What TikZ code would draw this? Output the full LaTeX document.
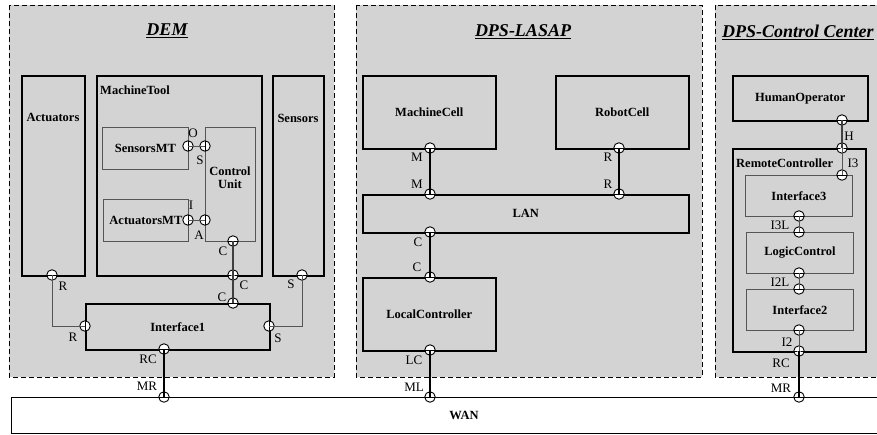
\documentclass[tikz,border=0pt]{standalone}
\usepackage{fontspec}
\setmainfont{Liberation Serif}
\definecolor{panelgray}{HTML}{D3D3D3}
\definecolor{thingray}{HTML}{555555}
\begin{document}
\begin{tikzpicture}[x=1pt,y=-1pt,
  panel/.style={draw=black, fill=panelgray, line width=0.7pt, dash pattern=on 5pt off 3pt},
  bigbox/.style={draw=black, line width=1.5pt, anchor=north west, inner sep=0pt, font=\fontsize{12.5}{14}\selectfont\bfseries},
  smallbox/.style={draw=thingray, line width=0.8pt, anchor=north west, inner sep=0pt, font=\fontsize{12.5}{14}\selectfont\bfseries},
  lbl/.style={font=\fontsize{12.5}{14}\selectfont\bfseries, inner sep=0pt},
  plbl/.style={font=\fontsize{13}{14}\selectfont, inner sep=0pt},
  ttl/.style={font=\fontsize{18}{20}\selectfont\bfseries\itshape, inner sep=0pt},
  port/.style={circle, draw=black, fill=white, line width=0.9pt, inner sep=0pt, minimum size=10.5pt},
  ph/.style={port, path picture={\draw[line width=0.9pt] (path picture bounding box.west) -- (path picture bounding box.east);}},
  pv/.style={port, path picture={\draw[line width=0.9pt] (path picture bounding box.north) -- (path picture bounding box.south);}},
  phd/.style={port, path picture={\draw[line width=0.9pt] (path picture bounding box.west) -- (path picture bounding box.east);
     \fill (path picture bounding box.center) circle (1.8pt);}},
  thinconn/.style={draw=thingray, line width=1pt},
  medconn/.style={draw=black!75, line width=1.3pt},
  thickconn/.style={draw=black, line width=1.9pt}
]
\useasboundingbox (0,0) rectangle (877,434);
\clip (0,0) rectangle (877,434);

% panels
\draw[panel] (9,5) rectangle (334,377);
\draw[panel] (356,5) rectangle (702,377);
\draw[panel] (715,5) rectangle (895,377);

\node[ttl] (tDEM) at (167,31) {\underline{DEM}};
\node[ttl] (tLASAP) at (523,32) {\underline{DPS-LASAP}};
\node[ttl, anchor=west] (tCC) at (722,32) {\underline{DPS-Control Center}};

% WAN
\node[bigbox, line width=1.3pt, fill=white, minimum width=906pt, minimum height=36pt] (wan) at (11,397) {};
\node[lbl] (wanl) at (464,415) {WAN};

% DEM boxes
\node[bigbox, minimum width=63pt, minimum height=200pt] (act) at (21,75) {};
\node[lbl] (actl) at (53,117) {Actuators};
\node[bigbox, minimum width=165pt, minimum height=200pt] (mt) at (96,75) {};
\node[lbl, anchor=west] (mtl) at (100,90) {MachineTool};
\node[bigbox, minimum width=51pt, minimum height=200pt] (sen) at (272,75) {};
\node[lbl] (senl) at (298,118) {Sensors};
\node[smallbox, minimum width=86pt, minimum height=42pt] (smt) at (102,127) {SensorsMT};
\node[smallbox, minimum width=50pt, minimum height=114pt] (cu) at (205,127) {};
\node[lbl, align=center] (cul) at (230,178) {Control\\[-1pt]Unit};
\node[smallbox, minimum width=85pt, minimum height=42pt] (amt) at (103,199) {ActuatorsMT};
\node[bigbox, minimum width=184pt, minimum height=46pt] (i1) at (85,303) {Interface1};

% LASAP boxes
\node[bigbox, minimum width=133pt, minimum height=73pt] (mc) at (362,75) {MachineCell};
\node[bigbox, minimum width=133pt, minimum height=73pt] (rbc) at (555,75) {RobotCell};
\node[bigbox, minimum width=326pt, minimum height=38pt] (lan) at (362,194) {LAN};
\node[bigbox, minimum width=133pt, minimum height=73pt] (lc) at (362,277) {LocalController};

% Control center boxes
\node[bigbox, minimum width=135pt, minimum height=45pt] (ho) at (732,75) {HumanOperator};
\node[bigbox, minimum width=133pt, minimum height=203pt] (rmc) at (732,148) {};
\node[lbl, anchor=west] (rmcl) at (736,163) {RemoteController};
\node[smallbox, minimum width=107pt, minimum height=41pt] (if3) at (745,175) {Interface3};
\node[smallbox, minimum width=107pt, minimum height=41pt] (lgc) at (746,232) {LogicControl};
\node[smallbox, minimum width=107pt, minimum height=41pt] (if2) at (746,289) {Interface2};

% ports DEM
\node[pv] (pSO) at (188,146) {};
\node[pv] (pCS) at (205,146) {};
\node[pv] (pAI) at (188,220) {};
\node[pv] (pCA) at (205,220) {};
\node[ph] (pCC) at (233,241) {};
\node[phd] (pMC) at (233,275) {};
\node[ph] (pIC) at (233,303) {};
\node[ph] (pAR) at (52,275) {};
\node[ph] (pSS) at (302,275) {};
\node[pv] (pIR) at (85,326) {};
\node[pv] (pIS) at (269,326) {};
\node[ph] (pIRC) at (164,349) {};
\node[ph] (pW1) at (164,397) {};

% ports LASAP
\node[ph] (pMCM) at (430,148) {};
\node[ph] (pLM) at (430,194) {};
\node[ph] (pRCR) at (619,148) {};
\node[ph] (pLR) at (619,194) {};
\node[ph] (pLC) at (430,232) {};
\node[ph] (pLCC) at (430,277) {};
\node[ph] (pLCLC) at (430,350) {};
\node[ph] (pW2) at (430,397) {};

% ports CC
\node[ph] (pH) at (842,120) {};
\node[phd] (pRT) at (842,148) {};
\node[ph] (pI3T) at (842,175) {};
\node[ph] (pI3B) at (799,216) {};
\node[ph] (pLgT) at (799,232) {};
\node[ph] (pLgB) at (799,273) {};
\node[ph] (pI2T) at (799,289) {};
\node[ph] (pI2B) at (799,330) {};
\node[phd] (pRB) at (799,351) {};
\node[ph] (pW3) at (799,397) {};

% connectors DEM
\draw[thinconn] (pSO.center) -- (pCS.center);
\draw[thinconn] (pAI.center) -- (pCA.center);
\draw[medconn] (pCC.center) -- (pMC.center);
\draw[medconn] (pMC.center) -- (pIC.center);
\draw[thinconn] (pAR.center) |- (pIR.center);
\draw[thinconn] (pSS.center) |- (pIS.center);
\draw[thickconn] (pIRC.center) -- (pW1.center);

% connectors LASAP
\draw[thickconn] (pMCM.center) -- (pLM.center);
\draw[thickconn] (pRCR.center) -- (pLR.center);
\draw[thickconn] (pLC.center) -- (pLCC.center);
\draw[thickconn] (pLCLC.center) -- (pW2.center);

% connectors CC
\draw[medconn] (pH.center) -- (pRT.center);
\draw[thinconn] (pRT.center) -- (pI3T.center);
\draw[thinconn] (pI3B.center) -- (pLgT.center);
\draw[thinconn] (pLgB.center) -- (pI2T.center);
\draw[thinconn] (pI2B.center) -- (pRB.center);
\draw[thickconn] (pRB.center) -- (pW3.center);

% port labels DEM
\node[plbl] (lO) at (193,133) {O};
\node[plbl] (lS1) at (200,160) {S};
\node[plbl] (lI) at (191,205) {I};
\node[plbl] (lA) at (199,235) {A};
\node[plbl] (lC1) at (223,251) {C};
\node[plbl] (lC2) at (244,285) {C};
\node[plbl] (lC3) at (222,297) {C};
\node[plbl] (lR1) at (63,286) {R};
\node[plbl] (lS2) at (291,284) {S};
\node[plbl] (lR2) at (73,337) {R};
\node[plbl] (lS3) at (278,338) {S};
\node[plbl] (lRC1) at (148,359) {RC};
\node[plbl] (lMR1) at (147,386) {MR};

% port labels LASAP
\node[plbl] (lM1) at (417,157) {M};
\node[plbl] (lM2) at (417,184) {M};
\node[plbl] (lR3) at (608,157) {R};
\node[plbl] (lR4) at (608,184) {R};
\node[plbl] (lC4) at (418,242) {C};
\node[plbl] (lC5) at (417,267) {C};
\node[plbl] (lLC) at (414,360) {LC};
\node[plbl] (lML) at (414,387) {ML};

% port labels CC
\node[plbl] (lH) at (849,136) {H};
\node[plbl] (lI3) at (853,163) {I3};
\node[plbl] (lI3L) at (780,225) {I3L};
\node[plbl] (lI2L) at (780,282) {I2L};
\node[plbl] (lI2) at (787,342) {I2};
\node[plbl] (lRC2) at (781,363) {RC};
\node[plbl] (lMR2) at (781,388) {MR};
\end{tikzpicture}
\end{document}
